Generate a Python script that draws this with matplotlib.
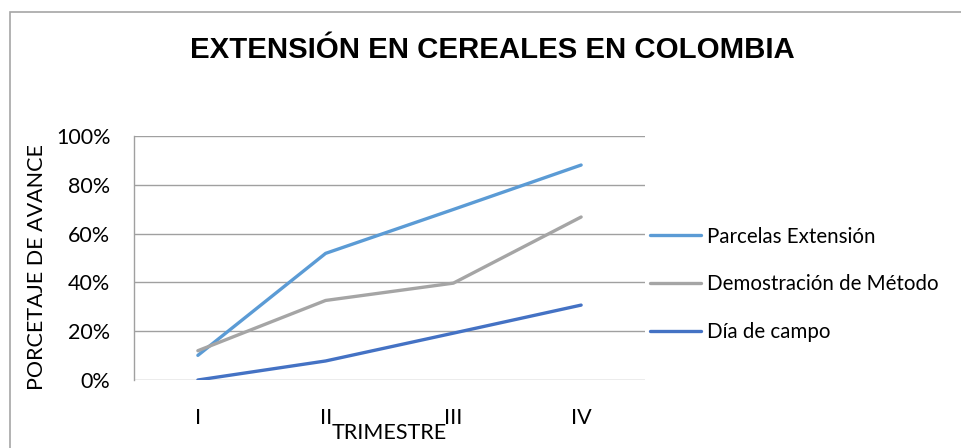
import matplotlib.pyplot as plt
from matplotlib.patches import Rectangle
from matplotlib.ticker import PercentFormatter

# data
trimestres = ["I", "II", "III", "IV"]
parcelas = [10.1, 51.9, 69.9, 88.1]
demostracion = [12.0, 32.6, 39.7, 66.8]
dia_campo = [0.0, 7.8, 19.2, 30.7]
series_names = ["Parcelas Extensión", "Demostración de Método", "Día de campo"]
colors = ["#5B9BD5", "#A5A5A5", "#4472C4"]

plt.rcParams['font.family'] = ['Lato', 'DejaVu Sans']

fig = plt.figure(figsize=(9.61, 4.48), dpi=100)

# outer chart border (extends past right/bottom edges)
fig.patches.append(Rectangle((10 / 961, -0.1), 1.2, 1.1 - 12.5 / 448,
                             transform=fig.transFigure, fill=False,
                             edgecolor="#A6A6A6", linewidth=1.2))

ax = fig.add_axes([134 / 961, 1 - 380 / 448, 511 / 961, 244 / 448])

x = range(len(trimestres))
for vals, name, c in zip([parcelas, demostracion, dia_campo], series_names, colors):
    ax.plot(x, vals, color=c, linewidth=2.4, label=name, solid_capstyle="round")

ax.set_xlim(-0.5, 3.5)
ax.set_ylim(0, 100)
ax.set_yticks([0, 20, 40, 60, 80, 100])
ax.yaxis.set_major_formatter(PercentFormatter(decimals=0))
ax.set_xticks(list(x))
ax.set_xticklabels(trimestres)
ax.grid(axis="y", color="#A0A0A0", linewidth=1.0)
ax.set_axisbelow(True)
for s in ["top", "right", "bottom"]:
    ax.spines[s].set_visible(False)
ax.spines["left"].set_color("#A0A0A0")
ax.spines["left"].set_linewidth(1.0)
ax.tick_params(axis="both", length=0, labelsize=15.5, colors="black")
ax.tick_params(axis="y", pad=17)
ax.tick_params(axis="x", pad=20)

ax.set_xlabel("TRIMESTRE", fontsize=15.5)
ax.xaxis.set_label_coords(0.5, -0.217)
ax.xaxis.label.set_va("center")
ax.set_ylabel("PORCETAJE DE AVANCE", fontsize=15.5)
ax.yaxis.set_label_coords(-0.19, 0.463)
ax.yaxis.label.set_va("center")

fig.text(492 / 961, 1 - 50 / 448, "EXTENSIÓN EN CEREALES EN COLOMBIA",
         ha="center", va="center", fontsize=21.2, fontweight="bold",
         family="Liberation Sans")

ax.legend(loc="center left", bbox_to_anchor=(1 + 5 / 511, 0.392), frameon=False,
          fontsize=14.8, handlelength=2.5, handletextpad=0.25, labelspacing=1.35,
          borderaxespad=0, borderpad=0)

fig.savefig("out.png", dpi=100)
